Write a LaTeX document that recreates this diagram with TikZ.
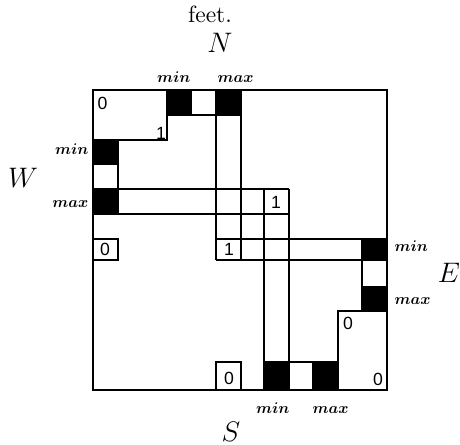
\documentclass[tikz,border=0pt]{standalone}
\usepackage{fontspec}
\usepackage{amsmath}
\usepackage{graphicx}
\newfontfamily\digitfont{Liberation Sans}
\newcommand{\mmlbl}[1]{\scalebox{0.66}{$\boldsymbol{#1}$}}
\begin{document}
\begin{tikzpicture}[x=0.4255pt,y=-0.4255pt, line width=0.5pt,
  blk/.style={fill=black,draw=black},
  wht/.style={draw=black,fill=white},
  dig/.style={font=\digitfont\fontsize{7.5}{9}\selectfont, inner sep=0pt},
  lbl/.style={inner sep=0pt},
  dirlbl/.style={font=\large, inner sep=0pt}]
\useasboundingbox (0,0) rectangle (460,445);
% strips
\draw (118,189) -- (289,189);
\draw (118,214) -- (289,214);
\draw (216,115) -- (216,260);
\draw (241,115) -- (241,260);
\draw (216,239) -- (362,239);
\draw (216,260) -- (362,260);
\draw (264,189) -- (264,362);
\draw (289,189) -- (289,362);
\draw (93,140) -- (167,140) -- (167,115);
\draw (362,311) -- (338,311) -- (338,362);
% outer box
\draw (93,90) rectangle (387,390);
% N squares
\draw[blk] (167,90) rectangle (191,115);
\draw[wht] (191,90) rectangle (216,115);
\draw[blk] (216,90) rectangle (241,115);
% W squares
\draw[blk] (93,140) rectangle (118,164);
\draw[wht] (93,164) rectangle (118,189);
\draw[blk] (93,189) rectangle (118,214);
% E squares
\draw[blk] (362,239) rectangle (387,260);
\draw[wht] (362,260) rectangle (387,287);
\draw[blk] (362,287) rectangle (387,311);
% S squares
\draw[blk] (264,362) rectangle (289,390);
\draw[wht] (289,362) rectangle (313,390);
\draw[blk] (313,362) rectangle (338,390);
% zero boxes
\draw (93,239) rectangle (118,260);
\draw (216,362) rectangle (241,390);
% digits
\node[dig] (z1) at (102.5,103) {0};
\node[dig] (o1) at (161,133) {1};
\node[dig] (o2) at (276,202) {1};
\node[dig] (o3) at (229,249) {1};
\node[dig] (z2) at (105,249) {0};
\node[dig] (z3) at (348,323.5) {0};
\node[dig] (z4) at (378,379) {0};
\node[dig] (z5) at (229,378) {0};
% min / max labels
\node[lbl,anchor=base east] (nmin) at (191,83) {\mmlbl{min}};
\node[lbl,anchor=base west] (nmax) at (217,83) {\mmlbl{max}};
\node[lbl,anchor=base east] (wmin) at (89,155) {\mmlbl{min}};
\node[lbl,anchor=base east] (wmax) at (89,208) {\mmlbl{max}};
\node[lbl,anchor=base west] (emin) at (394,252) {\mmlbl{min}};
\node[lbl,anchor=base west] (emax) at (394,305) {\mmlbl{max}};
\node[lbl,anchor=base east] (smin) at (290,413) {\mmlbl{min}};
\node[lbl,anchor=base west] (smax) at (312,413) {\mmlbl{max}};
% direction labels
\node[inner sep=0pt,anchor=base] (feet) at (210,23) {feet.};
\node[dirlbl] (N) at (220,43) {$N$};
\node[dirlbl] (W) at (23,178) {$W$};
\node[dirlbl] (E) at (449,273) {$E$};
\node[dirlbl] (S) at (231,432) {$S$};
\end{tikzpicture}
\end{document}
